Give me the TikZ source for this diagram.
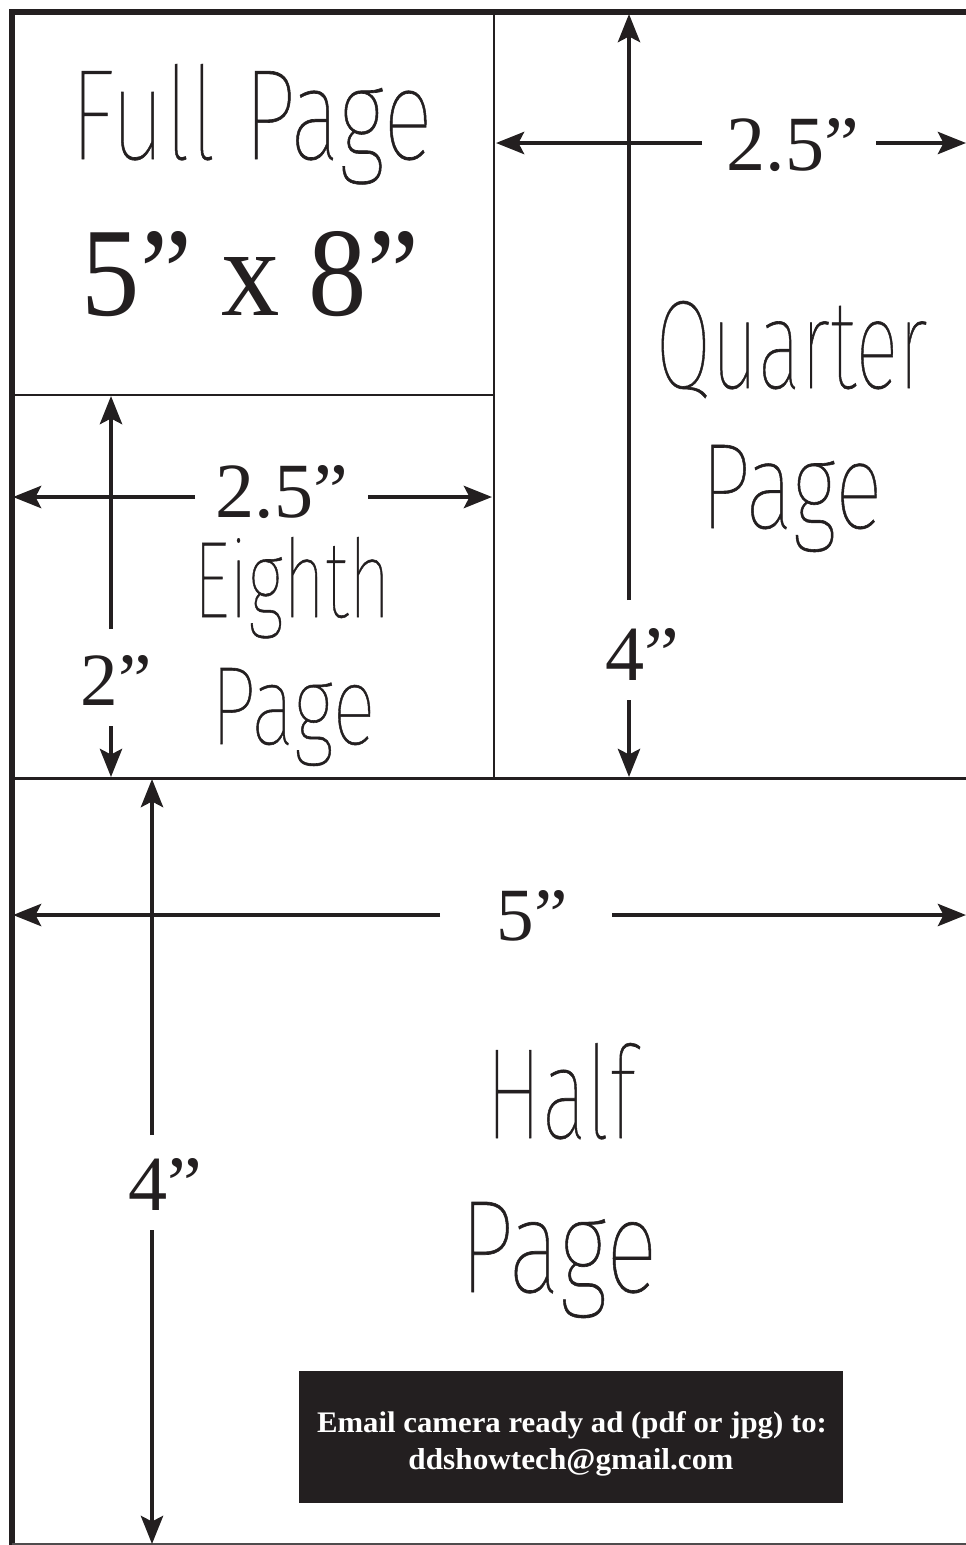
\documentclass[tikz,border=0pt]{standalone}
\usepackage{fontspec}
\usepackage{graphicx}
\usetikzlibrary{arrows.meta}
\setmainfont{Liberation Serif}
\IfFontExistsTF{Fira Sans Thin}{\newfontfamily\thinf{Fira Sans Thin}[FakeBold=0.5]}{%
 \IfFontExistsTF{FiraSans-Thin.otf}{\newfontfamily\thinf{FiraSans-Thin.otf}[FakeBold=0.5]}{%
  \IfFontExistsTF{Fira Sans ExtraLight}{\newfontfamily\thinf{Fira Sans ExtraLight}}{%
   \IfFontExistsTF{Fira Sans Light}{\newfontfamily\thinf{Fira Sans Light}}{%
    \newfontfamily\thinf{Fira Sans}}}}}
\definecolor{ink}{HTML}{231F20}
\newlength\pxu
\setlength\pxu{0.02cm}
\newcommand\thinword[3]{\resizebox{#1\pxu}{#2\pxu}{\thinf #3}}
\newcommand\dimlabel[2]{\resizebox{!}{#1\pxu}{#2}}
\tikzset{
  frame/.style={draw=ink, line cap=rect},
  part/.style={draw=ink, line width=1.7pt},
  dimarrow/.style={draw=ink, line width=2.6pt,
    -{Stealth[length=0.56cm,width=0.44cm,inset=0.11cm]}},
  word/.style={inner sep=0pt, anchor=base, text=ink},
}
\begin{document}
\begin{tikzpicture}[x={(0.02cm,0)}, y={(0,-0.02cm)}]
\useasboundingbox (0,0) rectangle (966,1545);
\fill[white] (0,0) rectangle (966,1545);

% outer frame
\draw[frame, line width=3.4pt] (12,1545) -- (12,12) -- (970,12);
\draw[draw=ink!80, line width=0.9pt] (12,1544) -- (966,1544);

% partitions
\draw[part] (494,12) -- (494,778);
\draw[part] (12,395) -- (494,395);
\draw[part] (12,778) -- (966,778);

% coordinates for dimension arrows
\coordinate (qvTop) at (629,14);
\coordinate (qvA) at (629,600);
\coordinate (qvB) at (629,700);
\coordinate (qvBot) at (629,777);
\coordinate (qhL) at (496,143);
\coordinate (qhA) at (702,143);
\coordinate (qhB) at (876,143);
\coordinate (qhR) at (966,143);
\coordinate (evTop) at (111,396);
\coordinate (evA) at (111,629);
\coordinate (evB) at (111,726);
\coordinate (evBot) at (111,777);
\coordinate (ehL) at (13,497);
\coordinate (ehA) at (195,497);
\coordinate (ehB) at (368,497);
\coordinate (ehR) at (492,497);
\coordinate (hhL) at (13,915);
\coordinate (hhA) at (440,915);
\coordinate (hhB) at (612,915);
\coordinate (hhR) at (966,915);
\coordinate (hvTop) at (152,779);
\coordinate (hvA) at (152,1135);
\coordinate (hvB) at (152,1230);
\coordinate (hvBot) at (152,1544);

\draw[dimarrow] (qvA) -- (qvTop);
\draw[dimarrow] (qvB) -- (qvBot);
\draw[dimarrow] (qhA) -- (qhL);
\draw[dimarrow] (qhB) -- (qhR);
\draw[dimarrow] (evA) -- (evTop);
\draw[dimarrow] (evB) -- (evBot);
\draw[dimarrow] (ehA) -- (ehL);
\draw[dimarrow] (ehB) -- (ehR);
\draw[dimarrow] (hhA) -- (hhL);
\draw[dimarrow] (hhB) -- (hhR);
\draw[dimarrow] (hvA) -- (hvTop);
\draw[dimarrow] (hvB) -- (hvBot);

% big thin words
\node[word] (fullw) at (251.5,159) {\thinword{362}{95}{Full Page}};
\node[word] (quarterw) at (791.5,388) {\thinword{272}{87}{Quarter}};
\node[word] (qpagew) at (791.5,528) {\thinword{182}{83}{Page}};
\node[word] (eighthw) at (292,617) {\thinword{197}{80}{Eighth}};
\node[word] (epagew) at (293,744) {\thinword{165}{76}{Page}};
\node[word] (halfw) at (560.5,1138) {\thinword{150}{95}{Half}};
\node[word] (hpagew) at (558.5,1292) {\thinword{198}{90}{Page}};

% serif dimension labels
\node[word] (fullsize) at (250.5,315) {\resizebox{337\pxu}{84\pxu}{5” x 8”}};
\node[word] (q25) at (793,170) {\dimlabel{52}{2.5”}};
\node[word] (q4) at (642,680) {\dimlabel{52}{4”}};
\node[word] (e25) at (282,517) {\dimlabel{52}{2.5”}};
\node[word] (e2) at (116,705) {\dimlabel{50}{2”}};
\node[word] (h5) at (532,940) {\dimlabel{50}{5”}};
\node[word] (h4) at (165,1210) {\dimlabel{52}{4”}};

% email box
\node[fill=ink, minimum width=10.88cm, minimum height=2.64cm, inner sep=0pt]
  (emailbox) at (571,1437) {};
\node[inner sep=0pt, anchor=base, text=white] (email1) at (572,1432)
  {\resizebox{510\pxu}{21\pxu}{\bfseries Email camera ready ad (pdf or jpg) to:}};
\node[inner sep=0pt, anchor=base, text=white] (email2) at (571,1469)
  {\resizebox{325\pxu}{21\pxu}{\bfseries ddshowtech@gmail.com}};
\end{tikzpicture}
\end{document}
